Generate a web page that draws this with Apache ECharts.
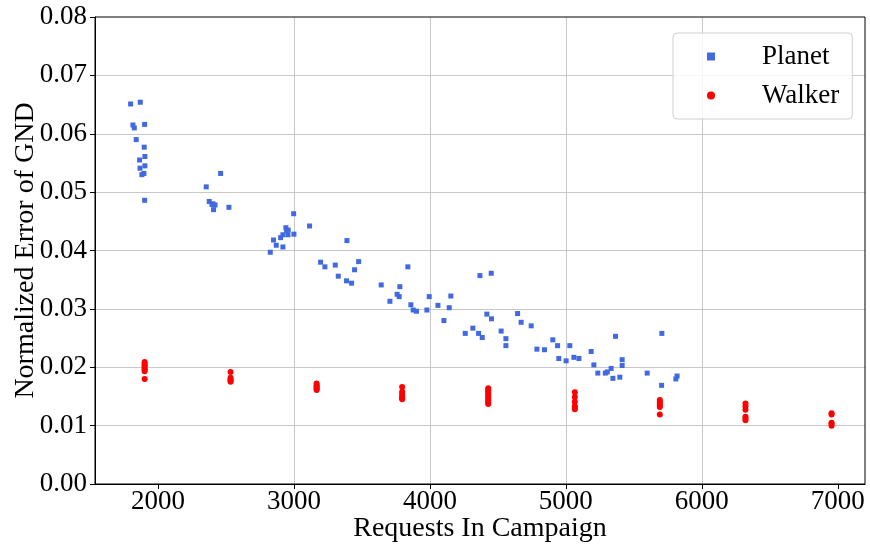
<!DOCTYPE html>
<html>
<head>
<meta charset="utf-8">
<script src="https://cdn.jsdelivr.net/npm/echarts@6/dist/echarts.min.js"></script>
<style>html,body{margin:0;padding:0;background:#fff}#c{width:870px;height:544px}</style>
</head>
<body>
<div id="c"></div>
<script>
const xTicks = [2000, 3000, 4000, 5000, 6000, 7000];
const planetX = [1799,1870,1816,1826,1902,1840,1899,1865,1904,1868,1904,1882,1897,1902,
  2461,2355,2377,2397,2404,2420,2409,2522,
  2826,2850,2870,2902,2919,2919,2941,2946,2958,2956,2998,3000,
  3115,3390,3196,3228,3304,3476,3446,3326,3387,3424,
  3838,3642,3779,3759,3774,3706,3995,4154,3860,3877,3901,3978,4059,4142,4103,
  4368,4451,4419,4453,4645,4671,4260,4316,4358,4385,4524,4559,4559,4745,
  4904,4939,5029,4787,4843,4948,5002,5059,5096,
  5186,5206,5235,5290,5305,5333,5346,5397,5365,5414,5414,
  5598,5706,5704,5818,5809];
const planetY = [0.0651,0.0654,0.0615,0.0610,0.0616,0.0590,0.0577,0.0555,0.0561,0.0541,0.0545,0.0530,0.0532,0.0486,
  0.0532,0.0509,0.0484,0.0479,0.0480,0.0478,0.0470,0.0474,
  0.0397,0.0418,0.0409,0.0422,0.0406,0.0427,0.0439,0.0434,0.0435,0.0427,0.0463,0.0428,
  0.0442,0.0417,0.0380,0.0372,0.0375,0.0381,0.0367,0.0356,0.0348,0.0344,
  0.0372,0.0341,0.0338,0.0325,0.0321,0.0313,0.0321,0.0322,0.0307,0.0298,0.0296,0.0298,0.0306,0.0302,0.0280,
  0.0357,0.0361,0.0291,0.0283,0.0292,0.0277,0.0258,0.0267,0.0258,0.0251,0.0262,0.0249,0.0237,0.0271,
  0.0247,0.0237,0.0237,0.0231,0.0230,0.0215,0.0211,0.0217,0.0215,
  0.0227,0.0204,0.0190,0.0190,0.0192,0.0198,0.0181,0.0183,0.0253,0.0213,0.0203,
  0.0190,0.0258,0.0169,0.0185,0.0180];
const walkerX = [1902,1902,1902,1902,1902,1902,1902,1902,
  2534,2534,2534,2534,2534,
  3167,3167,3167,3167,3167,3167,
  3796,3796,3796,3796,3796,3796,
  4429,4429,4429,4429,4429,4429,4429,4429,4429,4429,
  5066,5066,5066,5066,5066,5066,
  5691,5691,5691,5691,5691,5691,
  6321,6321,6321,6321,6321,6321,
  6954,6954,6954,6954,6954];
const walkerY = [0.0209,0.0206,0.0203,0.0201,0.0198,0.0196,0.0193,0.0180,
  0.0192,0.0182,0.0179,0.0177,0.0175,
  0.0172,0.0169,0.0167,0.0165,0.0163,0.0161,
  0.0166,0.0158,0.0154,0.0150,0.0147,0.0145,
  0.0164,0.0161,0.0158,0.0155,0.0152,0.0149,0.0146,0.0143,0.0140,0.0137,
  0.0157,0.0149,0.0141,0.0133,0.0130,0.0128,
  0.0144,0.0141,0.0138,0.0135,0.0132,0.0119,
  0.0138,0.0133,0.0127,0.0115,0.0112,0.0109,
  0.0121,0.0119,0.0105,0.0103,0.0100];

const FONT = '"Liberation Serif","Times New Roman",serif';
const planetData = planetX.map((x, i) => [x, planetY[i]]);
const walkerData = walkerX.map((x, i) => [x, walkerY[i]]);

const chart = echarts.init(document.getElementById('c'), null, {renderer: 'canvas'});
chart.setOption({
  animation: false,
  backgroundColor: '#fff',
  grid: {left: 95, top: 17, width: 770, height: 467, containLabel: false, outerBoundsMode: 'none',
    show: true, borderColor: '#000', borderWidth: 1, backgroundColor: 'transparent', z: 3},
  xAxis: {
    type: 'value', min: 1537, max: 7200,
    name: 'Requests In Campaign', nameLocation: 'middle', nameGap: 31, nameMoveOverlap: false,
    nameTextStyle: {fontFamily: FONT, fontSize: 28, color: '#000'},
    axisLine: {show: true, onZero: false, lineStyle: {color: '#000', width: 1}},
    axisTick: {show: true, inside: false, length: 5, customValues: xTicks, lineStyle: {color: '#000'}},
    axisLabel: {customValues: xTicks, fontFamily: FONT, fontSize: 27, color: '#000', margin: 4, formatter: v => String(v)},
    splitLine: {show: true, showMinLine: false, showMaxLine: false, lineStyle: {color: '#c8c8c8', width: 1}}
  },
  yAxis: {
    type: 'value', min: 0, max: 0.08, interval: 0.01,
    name: 'Normalized Error of GND', nameLocation: 'middle', nameGap: 55, nameMoveOverlap: false,
    nameTextStyle: {fontFamily: FONT, fontSize: 28, color: '#000'},
    axisLine: {show: true, onZero: false, lineStyle: {color: '#000', width: 1}},
    axisTick: {show: true, inside: false, length: 5, lineStyle: {color: '#000'}},
    axisLabel: {fontFamily: FONT, fontSize: 27, color: '#000', margin: 8, formatter: v => v.toFixed(2)},
    splitLine: {show: true, showMinLine: false, showMaxLine: false, lineStyle: {color: '#c8c8c8', width: 1}}
  },
  legend: {
    orient: 'vertical', left: 673, top: 33,
    padding: [10, 13, 10, 34], itemGap: 12, itemWidth: 8, itemHeight: 8,
    backgroundColor: 'rgba(255,255,255,0.85)', borderColor: '#d0d0d0', borderWidth: 1, borderRadius: 4,
    textStyle: {fontFamily: FONT, fontSize: 27, color: '#000', padding: [0, 0, 0, 42]},
    data: [{name: 'Planet', icon: 'rect'}, {name: 'Walker', icon: 'circle'}]
  },
  series: [
    {name: 'Planet', type: 'scatter', symbol: 'rect', symbolSize: 5, itemStyle: {color: '#4169E1', opacity: 1}, data: planetData, z: 3},
    {name: 'Walker', type: 'scatter', symbol: 'circle', symbolSize: 6, itemStyle: {color: '#FF0000', opacity: 1}, data: walkerData, z: 4}
  ]
});
</script>
</body>
</html>
